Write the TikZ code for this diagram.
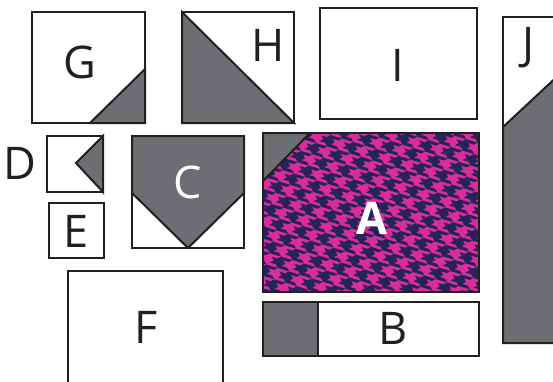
\documentclass[tikz,border=0pt]{standalone}
\usepackage{fontspec}
\setmainfont{Open Sans}
\usepackage{xcolor}
\definecolor{ink}{HTML}{231F20}
\definecolor{slate}{HTML}{6D6E71}
\definecolor{fuchsia}{HTML}{D92E98}
\definecolor{navy}{HTML}{24245A}
\usetikzlibrary{positioning}

\tikzset{
  piece/.style={fill=white,draw=ink,line width=2pt},
  dark/.style={fill=slate,draw=ink,line width=2pt,line join=miter},
  tag/.style={font=\fontsize{45}{45}\selectfont,text=ink,inner sep=0pt},
  whitetag/.style={tag,text=white},
}

\begin{document}
\begin{tikzpicture}[x=1pt,y=-1pt]
  \useasboundingbox (0,0) rectangle (553,381);
  \clip (0,0) rectangle (553,381);

  % G
  \draw[piece] (32,12) rectangle (145,123);
  \filldraw[dark] (145,69) -- (145,123) -- (90,123) -- cycle;
  \node[tag] (g) at (80,62) {G};

  % H
  \draw[piece] (182,12) rectangle (294,123);
  \filldraw[dark] (182,12) -- (294,123) -- (182,123) -- cycle;
  \node[tag] (h) at (268,45) {H};

  % I
  \draw[piece] (320,8) rectangle (477,119);
  \node[tag] (i) at (398,65) {I};

  % J
  \draw[piece] (503,17) rectangle (562,343);
  \filldraw[dark] (503,127) -- (562,72) -- (562,343) -- (503,343) -- cycle;
  \node[tag] (j) at (528,48) {J};

  % D and E
  \node[tag] (d) at (20,163) {D};
  \draw[piece] (47,136) rectangle (103,192);
  \filldraw[dark] (103,136) -- (76,163) -- (103,192) -- cycle;
  \draw[piece] (49,203) rectangle (104,258);
  \node[tag] (e) at (76,231) {E};

  % C
  \draw[piece] (132,136) rectangle (244,248);
  \filldraw[dark] (132,136) -- (244,136) -- (244,193) -- (188,248) -- (132,193) -- cycle;
  \node[whitetag] (c) at (188,182) {C};

  % F
  \draw[piece] (68,271) rectangle (223,392);
  \node[tag] (f) at (146,327) {F};

  % A, houndstooth
  \begin{scope}
    \clip (263,133) rectangle (479,292);
    \fill[fuchsia] (263,133) rectangle (479,292);
    \begin{scope}[shift={(263,133)},rotate=28,scale=4.2]
      \foreach \i in {-7,...,14} {
        \foreach \j in {-3,...,16} {
          \begin{scope}[shift={(4*\i,4*\j)}]
            \fill[navy] (0,0) -- (2,0) -- (4,2) -- (3,2) -- (2,1) -- (2,2)
              -- (1,2) -- (2,3) -- (2,4) -- (0,2) -- cycle;
            \fill[navy] (3,0) -- (4,0) -- (4,1) -- cycle;
            \fill[navy] (0,3) -- (0,4) -- (1,4) -- cycle;
          \end{scope}
        }
      }
    \end{scope}
  \end{scope}
  \filldraw[dark] (263,133) -- (310,133) -- (263,181) -- cycle;
  \draw[ink,line width=2pt] (263,133) rectangle (479,292);
  \node[whitetag,font=\fontsize{45}{45}\selectfont\bfseries] (a) at (372,218) {A};

  % B
  \draw[piece] (263,302) rectangle (479,356);
  \filldraw[dark] (263,302) rectangle (318,356);
  \node[tag] (b) at (393,328) {B};
\end{tikzpicture}
\end{document}
